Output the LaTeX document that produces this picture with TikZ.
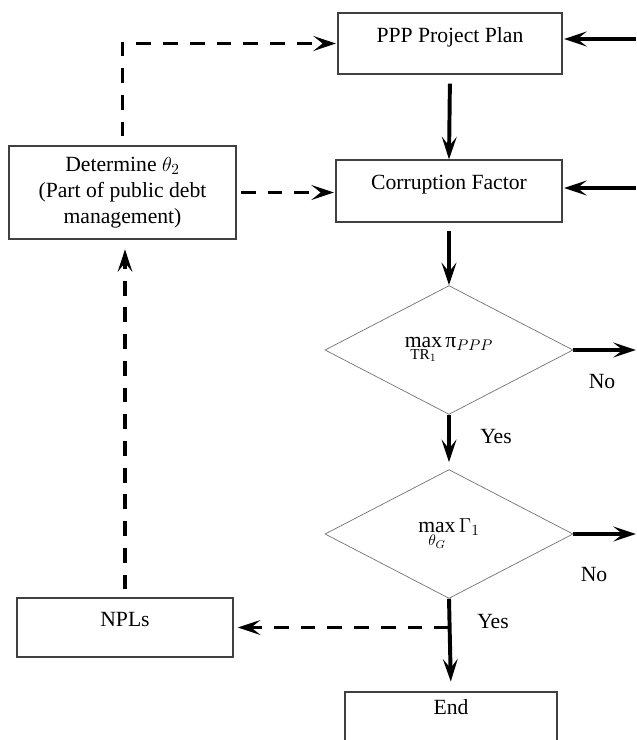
\documentclass[tikz,border=0pt]{standalone}
\usepackage{fontspec}
\setmainfont{Liberation Serif}
\newfontfamily\flowfont{Liberation Serif}
\usetikzlibrary{arrows.meta,shapes.geometric}

\begin{document}
\begin{tikzpicture}[x=0.025cm, y=-0.025cm, font=\flowfont\fontsize{15.4}{18.3}\selectfont,
    box/.style={draw=black!75, line width=0.8pt, inner sep=0pt},
    upbox/.style={box, text height=11pt, text depth=13pt},
    decision/.style={diamond, draw=black!55, line width=0.5pt, inner sep=0pt,
        minimum width=6.2cm, minimum height=3.22cm},
    flow/.style={line width=2.8pt, -{Stealth[length=16pt, width=10.5pt, inset=6.5pt]}},
    dashflow/.style={flow, dash pattern=on 10.5pt off 8.5pt}]
    \clip (0,0) rectangle (636,740);

    % --- Main column ---
    \node[upbox, minimum width=5.6cm, minimum height=1.525cm] (plan) at (450,43.5) {PPP Project Plan};
    \node[upbox, minimum width=5.65cm, minimum height=1.55cm] (corrupt) at (449,191) {Corruption Factor};
    \node[decision] (maxppp) at (449,350) {$\max\limits_{\mathrm{TR}_1}\mbox{π}_{PPP}$};
    \node[decision] (maxgam) at (449,534) {$\max\limits_{\theta_G}\Gamma_1$};
    \node[upbox, text depth=23pt, minimum width=5.3cm, minimum height=1.55cm] (finish) at (451,723) {End};

    % --- Left column ---
    \node[box, align=center, minimum width=5.675cm, minimum height=2.325cm] (theta) at (122.5,192.5)
        {Determine $\theta_2$\\(Part of public debt\\management)};
    \node[upbox, minimum width=5.4cm, minimum height=1.475cm] (npl) at (125,627.5) {NPLs};

    % Free ends on the right edge
    \coordinate (backplan) at (636,39);
    \coordinate (backcorrupt) at (636,188);
    \coordinate (noppp) at (636,350);
    \coordinate (nogam) at (636,534);
    \coordinate (split) at (maxgam.south |- npl.east);

    % Solid flow
    \draw[flow, shorten <=6.4pt] (plan.south) -- (corrupt.north);
    \draw[flow, shorten <=5.7pt] (corrupt.south) -- (maxppp.north);
    \draw[flow, shorten >=5pt] (maxppp.south) -- (maxgam.north);
    \draw[flow, shorten >=7pt] (maxgam.south) -- (finish.north);
    \draw[flow] (maxppp.east) -- (noppp);
    \draw[flow] (maxgam.east) -- (nogam);
    \draw[flow, shorten >=1pt] (backplan) -- (backplan -| plan.east);
    \draw[flow, shorten >=1pt] (backcorrupt) -- (backcorrupt -| corrupt.east);

    % Dashed feedback
    \draw[dashflow, shorten >=3pt] (split) -- (npl.east);
    \draw[dashflow, shorten <=5.7pt, shorten >=7pt] (npl.north) -- (npl.north |- theta.south);
    \draw[dashflow, shorten <=3pt, shorten >=1pt] (theta.east) -- (theta.east -| corrupt.west);
    \draw[dashflow, shorten <=6.4pt, shorten >=1pt] (theta.north) |- (plan.west);

    % Branch labels
    \node (no1) at (602,382) {No};
    \node (yes1) at (496,437) {Yes};
    \node (no2) at (594,575) {No};
    \node (yes2) at (493,622) {Yes};
\end{tikzpicture}
\end{document}
